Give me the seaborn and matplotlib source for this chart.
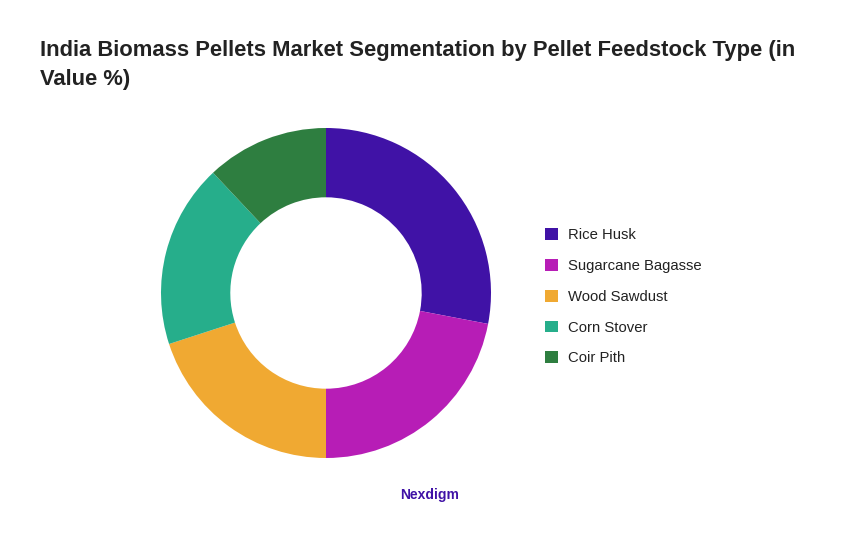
import matplotlib
matplotlib.use("Agg")
import matplotlib.pyplot as plt
import seaborn as sns

# segment shares (clockwise from 12 o'clock)
feedstocks = ["Rice Husk", "Sugarcane Bagasse", "Wood Sawdust", "Corn Stover", "Coir Pith"]
shares = [28, 22, 20, 18, 12]
colors = ["#4012A6", "#B71DB6", "#F0A932", "#26AE8B", "#2E7E40"]

sns.set_theme(style="white")
plt.rcParams['font.family'] = ['Liberation Sans', 'DejaVu Sans']

fig = plt.figure(figsize=(8.6, 5.4), dpi=100)
ax = fig.add_axes([161 / 860, 82 / 540, 330 / 860, 330 / 540])

palette = sns.color_palette(colors)
wedges, _ = ax.pie(shares, colors=palette, startangle=90, counterclock=False,
                   radius=1.0, wedgeprops=dict(width=0.42, edgecolor="none"))
ax.set_xlim(-1, 1)
ax.set_ylim(-1, 1)
ax.set_aspect("equal")
ax.axis("off")

leg = fig.legend(wedges, feedstocks, loc="upper left",
                 bbox_to_anchor=(532 / 860, 1 - 215 / 540),
                 frameon=False, fontsize=10.7, handlelength=0.85, handleheight=0.85,
                 labelspacing=1.12, handletextpad=0.65)
for t in leg.get_texts():
    t.set_color("#222222")

fig.text(40 / 860, 1 - 65 / 540,
         "India Biomass Pellets Market Segmentation by Pellet Feedstock Type (in\nValue %)",
         fontsize=15.8, fontweight="bold", color="#222222", ha="left", va="center",
         linespacing=1.5)

fig.text(430 / 860, 1 - 495 / 540, "Nexdigm", fontsize=10, fontweight="bold",
         color="#4012A6", ha="center", va="center")

fig.savefig("out.png", dpi=100)
